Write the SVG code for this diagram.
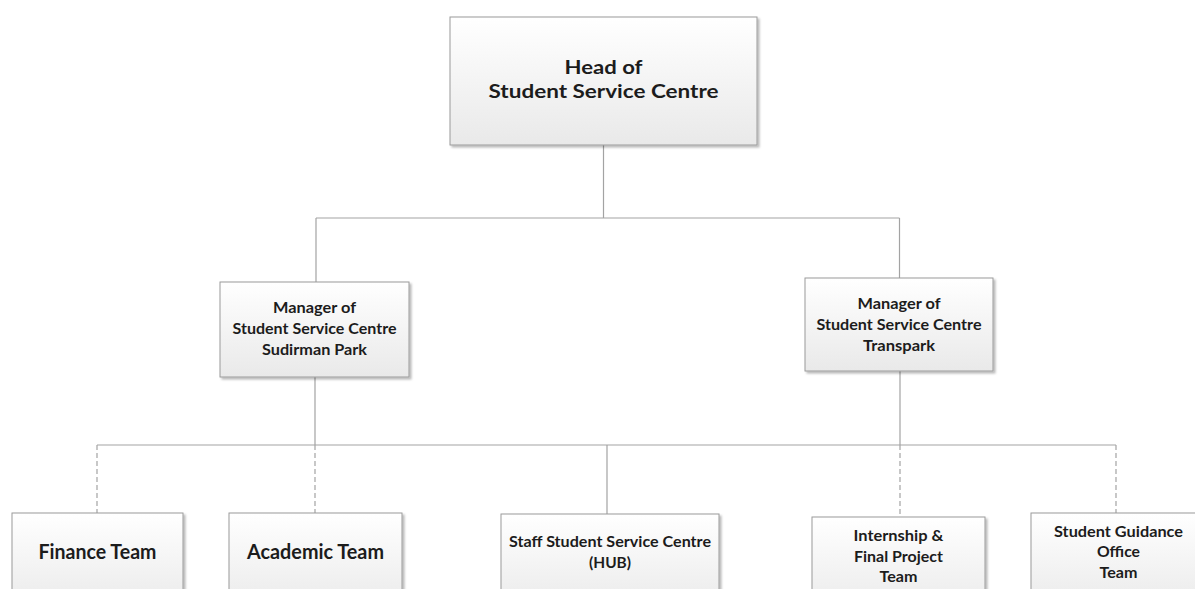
<svg xmlns="http://www.w3.org/2000/svg" width="1195" height="589" viewBox="0 0 1195 589">
  <style>
    .box { fill: url(#boxFill); stroke: #9a9a9a; stroke-width: 1; filter: url(#shadow); }
    .wire { fill: none; stroke: #a3a3a3; stroke-width: 1.2; }
    .dash { stroke-dasharray: 5 3; }
    .lbl { font-family: Lato, "Open Sans", "Liberation Sans", sans-serif; font-weight: 700; fill: #1c1c1c; text-anchor: middle; }
    .big { font-size: 19.5px; }
    .mid { font-size: 20px; }
    .sm { font-size: 15.5px; }
  </style>
  <defs>
    <linearGradient id="boxFill" x1="0" y1="0" x2="0" y2="1">
      <stop offset="0" stop-color="#ffffff"/>
      <stop offset="1" stop-color="#e9e9e9"/>
    </linearGradient>
    <filter id="shadow" x="-5%" y="-5%" width="115%" height="120%">
      <feDropShadow dx="2" dy="2" stdDeviation="1" flood-color="#000000" flood-opacity="0.28"/>
    </filter>
  </defs>

  <!-- connectors -->
  <g id="connectors">
    <path class="wire" d="M603.5 145 V218 M316 218 H899.5 M316 218 V282 M899.5 218 V278"/>
    <path class="wire" d="M315 377 V445 M900 371 V445 M97 445 H1116 M607 445 V514"/>
    <path class="wire dash" d="M97 445 V513 M315 445 V513 M900 445 V517 M1116 445 V513"/>
  </g>

  <g id="head">
    <rect class="box" x="450" y="17" width="307" height="128"/>
    <text class="lbl big" x="603.5" y="74" textLength="78" lengthAdjust="spacingAndGlyphs">Head of</text>
    <text class="lbl big" x="603.5" y="98" textLength="230" lengthAdjust="spacingAndGlyphs">Student Service Centre</text>
  </g>

  <g id="manager-sudirman">
    <rect class="box" x="220" y="282" width="189" height="95"/>
    <text class="lbl sm" x="314.5" y="313" textLength="83" lengthAdjust="spacingAndGlyphs">Manager of</text>
    <text class="lbl sm" x="314.5" y="334" textLength="164" lengthAdjust="spacingAndGlyphs">Student Service Centre</text>
    <text class="lbl sm" x="314.5" y="355" textLength="105" lengthAdjust="spacingAndGlyphs">Sudirman Park</text>
  </g>

  <g id="manager-transpark">
    <rect class="box" x="805" y="278" width="188" height="93"/>
    <text class="lbl sm" x="899" y="309" textLength="83" lengthAdjust="spacingAndGlyphs">Manager of</text>
    <text class="lbl sm" x="899" y="330" textLength="165" lengthAdjust="spacingAndGlyphs">Student Service Centre</text>
    <text class="lbl sm" x="899" y="351" textLength="72" lengthAdjust="spacingAndGlyphs">Transpark</text>
  </g>

  <g id="finance-team">
    <rect class="box" x="12" y="513" width="171" height="100"/>
    <text class="lbl mid" x="97.5" y="559" textLength="118" lengthAdjust="spacingAndGlyphs">Finance Team</text>
  </g>

  <g id="academic-team">
    <rect class="box" x="229" y="513" width="173" height="100"/>
    <text class="lbl mid" x="315.5" y="559" textLength="137" lengthAdjust="spacingAndGlyphs">Academic Team</text>
  </g>

  <g id="staff-hub">
    <rect class="box" x="501" y="514" width="218" height="100"/>
    <text class="lbl sm" x="610" y="547" textLength="202" lengthAdjust="spacingAndGlyphs">Staff Student Service Centre</text>
    <text class="lbl sm" x="610" y="568" textLength="42" lengthAdjust="spacingAndGlyphs">(HUB)</text>
  </g>

  <g id="internship-team">
    <rect class="box" x="812" y="517" width="173" height="100"/>
    <text class="lbl sm" x="898.5" y="540.5" textLength="90" lengthAdjust="spacingAndGlyphs">Internship &amp;</text>
    <text class="lbl sm" x="898.5" y="561.5" textLength="89" lengthAdjust="spacingAndGlyphs">Final Project</text>
    <text class="lbl sm" x="898.5" y="581.5" textLength="38" lengthAdjust="spacingAndGlyphs">Team</text>
  </g>

  <g id="guidance-team">
    <rect class="box" x="1031" y="513" width="174" height="100"/>
    <text class="lbl sm" x="1118.5" y="537" textLength="129" lengthAdjust="spacingAndGlyphs">Student Guidance</text>
    <text class="lbl sm" x="1118.5" y="557" textLength="43" lengthAdjust="spacingAndGlyphs">Office</text>
    <text class="lbl sm" x="1118.5" y="578" textLength="38" lengthAdjust="spacingAndGlyphs">Team</text>
  </g>
</svg>
